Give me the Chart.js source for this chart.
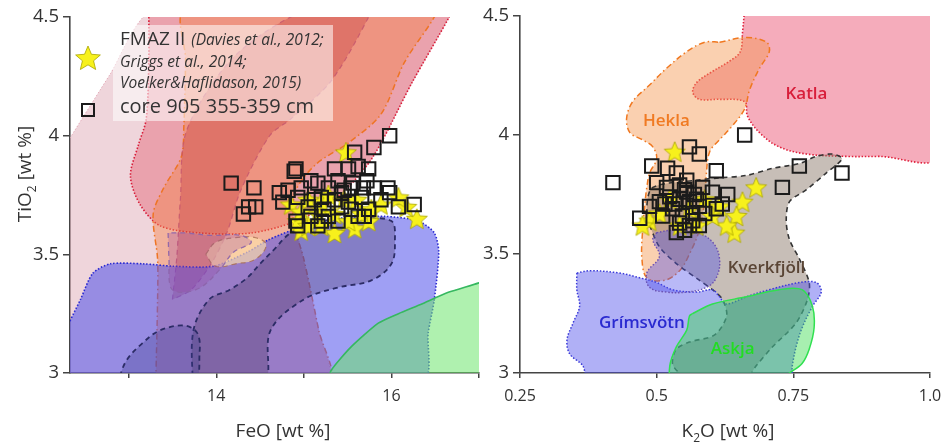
<!DOCTYPE html>
<html><head><meta charset="utf-8">
<script src="https://cdn.jsdelivr.net/npm/chart.js@4/dist/chart.umd.min.js"></script>
<style>
html,body{margin:0;padding:0;background:#fff;}
#wrap{position:relative;width:943px;height:444px;overflow:hidden;}
#c1{position:absolute;left:0;top:0;}
#c2{position:absolute;left:480px;top:0;}
</style></head><body>
<div id="wrap"><canvas id="c1" width="492" height="444"></canvas><canvas id="c2" width="463" height="444"></canvas></div>
<script>
// ---------- tick labels ----------
const feoTicks = [13, 14, 15, 16, 17];
const feoLabelled = [14, 16];
const tio2Ticks = [3, 3.5, 4, 4.5];
const k2oTicks = [0.25, 0.5, 0.75, 1.0];
const k2oTickLabels = ['0.25', '0.5', '0.75', '1.0'];

// ---------- left panel (FeO vs TiO2): samples ----------
const feoCore905 = [[14.17,3.80],[14.43,3.78],[14.37,3.70],[14.31,3.67],[14.45,3.70],[14.72,3.76],[14.76,3.72],[14.91,3.86],[14.89,3.85],[14.82,3.77],[14.93,3.74],[14.97,3.78],[15.08,3.81],[15.16,3.80],[15.20,3.74],[14.91,3.64],[14.93,3.62],[15.16,3.62],[15.28,3.66],[15.35,3.86],[15.51,3.86],[15.58,3.93],[15.62,3.87],[15.80,3.95],[15.98,4.00],[15.39,3.81],[15.46,3.77],[15.35,3.73],[15.51,3.72],[15.66,3.74],[15.74,3.69],[15.62,3.66],[15.39,3.64],[15.80,3.78],[15.96,3.78],[15.98,3.76],[16.08,3.70],[16.26,3.71],[15.88,3.73],[15.23,3.69],[15.05,3.70],[15.12,3.73],[15.28,3.78],[15.43,3.76],[15.54,3.78],[15.68,3.78],[15.72,3.81],[15.74,3.86],[15.56,3.80],[15.43,3.70],[15.54,3.69],[15.69,3.66],[15.08,3.66],[15.20,3.64]];
const feoFmaz = [[15.48,3.93],[14.97,3.60],[15.35,3.59],[15.58,3.61],[15.74,3.64],[16.29,3.65],[16.17,3.70],[16.08,3.74],[15.16,3.67],[14.93,3.64],[14.85,3.71],[15.05,3.73],[15.20,3.72],[15.35,3.67],[15.51,3.64],[15.46,3.73],[15.60,3.73],[15.66,3.67],[15.20,3.62],[15.05,3.62],[15.77,3.69],[15.88,3.71],[15.28,3.75],[14.97,3.68]];

// ---------- left panel fields (outline vertices, FeO / TiO2) ----------
const feoKatlaOuter = [[12.33,3.99],[12.79,4.26],[13.25,4.52],[16.69,4.52],[16.66,4.50],[16.23,4.22],[15.77,3.90],[15.35,3.73],[14.91,3.64],[14.97,3.52],[15.17,3.18],[15.28,2.97],[12.22,2.97],[12.22,3.94]];
const feoKatlaInner = [[13.23,4.53],[16.69,4.53],[16.66,4.50],[16.23,4.22],[15.77,3.90],[15.35,3.73],[14.91,3.64],[14.40,3.59],[13.82,3.59],[13.36,3.62],[13.13,3.71],[13.02,3.83],[13.11,3.96],[13.20,4.07],[13.23,4.32]];
const feoHekla = [[13.31,2.97],[13.33,3.31],[13.33,3.48],[13.28,3.67],[13.40,3.78],[13.60,3.91],[13.63,4.04],[13.65,4.32],[13.65,4.53],[16.49,4.53],[16.49,4.50],[16.15,4.31],[15.88,4.09],[15.51,3.97],[15.14,3.88],[14.91,3.77],[14.88,3.64],[15.00,3.48],[15.17,3.18],[15.28,2.97]];
const feoKatlaDark = [[13.50,3.31],[13.55,3.49],[13.59,3.73],[13.66,4.02],[14.17,4.32],[14.85,4.50],[15.39,4.55],[15.77,4.55],[15.74,4.50],[15.31,4.23],[14.85,4.07],[14.61,4.00],[14.28,3.77],[14.12,3.59],[13.94,3.46],[13.71,3.35]];
const feoGrimsvotn = [[12.33,3.22],[12.45,3.31],[12.59,3.42],[12.79,3.46],[13.17,3.46],[13.51,3.45],[13.97,3.45],[14.36,3.51],[14.59,3.56],[14.85,3.60],[15.12,3.63],[15.35,3.65],[15.92,3.66],[16.31,3.64],[16.49,3.59],[16.54,3.51],[16.49,3.31],[16.42,3.17],[16.36,2.97],[12.22,2.97],[12.22,3.18]];
const feoHeklaCore = [[13.88,3.50],[13.99,3.55],[14.22,3.57],[14.45,3.57],[14.57,3.54],[14.45,3.48],[14.22,3.46],[13.99,3.45]];
const feoMauve = [[13.45,3.59],[13.46,3.48],[13.48,3.36],[13.59,3.34],[13.82,3.36],[14.05,3.44],[14.20,3.51],[14.40,3.55],[14.28,3.58],[13.94,3.58],[13.65,3.59]];
const feoKverkBand = [[13.73,2.95],[13.74,3.18],[13.92,3.31],[14.15,3.35],[14.35,3.40],[14.50,3.46],[14.66,3.52],[14.85,3.59],[15.20,3.64],[15.66,3.65],[16.00,3.64],[16.04,3.56],[16.00,3.46],[15.77,3.39],[15.39,3.36],[15.00,3.31],[14.62,3.18],[14.53,2.95]];
const feoKverkLobe = [[12.87,2.95],[12.97,3.05],[13.17,3.13],[13.36,3.18],[13.63,3.20],[13.78,3.17],[13.81,3.09],[13.73,2.95]];
const feoAskja = [[15.28,2.95],[15.31,3.01],[15.54,3.11],[15.85,3.21],[16.08,3.25],[16.34,3.29],[16.65,3.34],[17.00,3.38],[17.20,3.41],[17.20,2.95]];

// ---------- right panel (K2O vs TiO2): samples ----------
const k2oCore905 = [[0.420,3.80],[0.491,3.87],[0.520,3.86],[0.500,3.80],[0.560,3.95],[0.578,3.92],[0.609,3.85],[0.661,4.00],[0.761,3.87],[0.839,3.84],[0.730,3.78],[0.630,3.75],[0.602,3.76],[0.620,3.71],[0.609,3.69],[0.469,3.65],[0.487,3.70],[0.505,3.72],[0.551,3.60],[0.542,3.63],[0.578,3.62],[0.518,3.78],[0.536,3.84],[0.555,3.76],[0.573,3.73],[0.529,3.69],[0.566,3.67],[0.584,3.78],[0.542,3.73],[0.555,3.81],[0.578,3.70],[0.524,3.74],[0.560,3.72],[0.547,3.66],[0.566,3.64],[0.511,3.66],[0.536,3.59],[0.533,3.71],[0.551,3.77],[0.569,3.75],[0.515,3.71],[0.588,3.67],[0.542,3.79],[0.560,3.62]];
const k2oFmaz = [[0.533,3.93],[0.682,3.78],[0.657,3.72],[0.646,3.66],[0.642,3.59],[0.628,3.62],[0.487,3.64],[0.474,3.62],[0.505,3.67],[0.542,3.62],[0.602,3.66],[0.615,3.70],[0.573,3.62],[0.560,3.69],[0.524,3.73],[0.588,3.73]];

// ---------- right panel fields ----------
const k2oKatla = [[0.661,4.53],[0.657,4.43],[0.653,4.35],[0.633,4.31],[0.597,4.26],[0.573,4.22],[0.566,4.18],[0.578,4.15],[0.615,4.15],[0.661,4.14],[0.666,4.08],[0.688,4.01],[0.724,3.95],[0.774,3.92],[0.847,3.91],[0.907,3.91],[1.016,3.91],[1.016,4.53]];
const k2oHekla = [[0.615,4.39],[0.664,4.41],[0.701,4.39],[0.706,4.35],[0.688,4.28],[0.670,4.19],[0.661,4.11],[0.639,4.04],[0.615,3.98],[0.597,3.93],[0.591,3.84],[0.588,3.73],[0.578,3.60],[0.560,3.50],[0.542,3.43],[0.515,3.39],[0.482,3.40],[0.473,3.48],[0.474,3.59],[0.478,3.70],[0.482,3.78],[0.487,3.84],[0.500,3.90],[0.493,3.95],[0.474,3.98],[0.451,4.01],[0.445,4.07],[0.456,4.14],[0.487,4.21],[0.518,4.28],[0.555,4.35],[0.588,4.39]];
const k2oKverkfjoll = [[0.487,3.62],[0.505,3.53],[0.536,3.46],[0.578,3.39],[0.602,3.35],[0.620,3.31],[0.628,3.24],[0.606,3.16],[0.560,3.13],[0.536,3.10],[0.529,3.04],[0.542,3.00],[0.578,2.97],[0.661,2.97],[0.682,3.03],[0.712,3.11],[0.755,3.21],[0.776,3.31],[0.779,3.38],[0.761,3.48],[0.743,3.56],[0.737,3.64],[0.743,3.72],[0.774,3.77],[0.810,3.84],[0.839,3.90],[0.821,3.92],[0.792,3.91],[0.761,3.88],[0.712,3.86],[0.664,3.83],[0.615,3.82],[0.573,3.81],[0.493,3.78],[0.482,3.70]];
const k2oGrimsvotn = [[0.354,3.42],[0.378,3.43],[0.432,3.42],[0.469,3.40],[0.500,3.38],[0.529,3.35],[0.573,3.34],[0.602,3.35],[0.615,3.32],[0.628,3.29],[0.664,3.32],[0.706,3.35],[0.761,3.38],[0.792,3.38],[0.801,3.34],[0.785,3.28],[0.766,3.19],[0.755,3.11],[0.748,3.03],[0.743,2.95],[0.378,2.95],[0.365,3.03],[0.341,3.08],[0.336,3.14],[0.347,3.21],[0.359,3.28],[0.354,3.35]];
const k2oGrimsvotnLobe = [[0.500,3.59],[0.529,3.60],[0.573,3.59],[0.602,3.55],[0.615,3.48],[0.609,3.40],[0.591,3.36],[0.555,3.34],[0.518,3.34],[0.487,3.36],[0.482,3.42],[0.505,3.49],[0.493,3.56]];
const k2oAskja = [[0.566,3.25],[0.602,3.29],[0.664,3.32],[0.724,3.35],[0.766,3.35],[0.785,3.28],[0.788,3.19],[0.779,3.10],[0.766,3.04],[0.743,3.00],[0.724,2.97],[0.529,2.97],[0.524,3.03],[0.536,3.11],[0.555,3.18],[0.560,3.24]];

// ---------- field names (right panel) ----------
const fieldNames = ['Katla', 'Hekla', 'Kverkfjöll', 'Grímsvötn', 'Askja'];
const fieldNamePos = [[0.774,4.17],[0.518,4.06],[0.701,3.44],[0.473,3.21],[0.639,3.10]];

// ---------- styles ----------
const FONT = '"Open Sans", "DejaVu Sans", sans-serif';
const TXT = '#333333';
const DOT = [1.5, 1.8], DASH = [5, 4], DASHDOT = [6, 3, 1.5, 3];
const fieldColors = ['#d81e3a', '#f07a22', '#5a4535', '#2a2ad0', '#22dd22'];

function toXY(arr) { const p = arr.map(([x, y]) => ({x, y})); p.push(p[0]); return p; }
function field(arr, fill, border, width, dash, tension) {
  return { type: 'line', data: toXY(arr), fill: 'shape', backgroundColor: fill,
    borderColor: border, borderWidth: width, borderDash: dash || [], tension: tension == null ? 0.35 : tension,
    pointRadius: 0, showLine: true, clip: 0 };
}
function makeStar(size) {
  const c = document.createElement('canvas'); c.width = c.height = size;
  const g = c.getContext('2d'); const cx = size / 2, cy = size / 2 + 1, R = size / 2 - 1, r = R * 0.45;
  g.beginPath();
  for (let i = 0; i < 10; i++) { const a = -Math.PI / 2 + i * Math.PI / 5; const rr = i % 2 ? r : R; g.lineTo(cx + rr * Math.cos(a), cy + rr * Math.sin(a)); }
  g.closePath(); g.fillStyle = '#f7f11c'; g.fill(); g.lineWidth = 0.8; g.strokeStyle = '#a9a400'; g.stroke();
  return c;
}
const starImg = makeStar(24);
const legendStar = makeStar(28);

function points(arr, kind) {
  if (kind === 'star') return { type: 'line', data: arr.map(([x, y]) => ({x, y})), showLine: false,
    pointStyle: starImg, pointRadius: 12, order: 1 };
  return { type: 'line', data: arr.map(([x, y]) => ({x, y})), showLine: false, pointStyle: 'rect',
    pointRadius: 9.5, pointBorderWidth: 2, pointBorderColor: '#1b1b1b', pointBackgroundColor: 'rgba(0,0,0,0)', order: 0 };
}
function withOrder(list) { return list.map((d, i) => Object.assign(d, { order: 100 - i })); }

function drawRich(ctx, parts, cx, cy, rot, size, color) {
  ctx.save(); ctx.translate(cx, cy); ctx.rotate(rot); ctx.fillStyle = color; ctx.textBaseline = 'alphabetic';
  const fm = size + 'px ' + FONT, fs = Math.round(size * 0.62) + 'px ' + FONT;
  let w = 0; parts.forEach(p => { ctx.font = p.sub ? fs : fm; p.w = ctx.measureText(p.t).width; w += p.w; });
  let x = -w / 2; const base = size * 0.36;
  parts.forEach(p => { ctx.font = p.sub ? fs : fm; ctx.fillText(p.t, x, base + (p.sub ? size * 0.28 : 0)); x += p.w; });
  ctx.restore();
}

const titlesPlugin = {
  id: 'richTitles',
  afterDraw(chart, args, opts) { (opts.items || []).forEach(it => drawRich(chart.ctx, it.parts, it.x, it.y, it.rot || 0, it.size, TXT)); }
};
const labelsPlugin = {
  id: 'fieldLabels',
  afterDatasetsDraw(chart, args, opts) {
    const ctx = chart.ctx; const xs = chart.scales.x, ys = chart.scales.y;
    (opts.names || []).forEach((n, i) => {
      ctx.save(); ctx.font = '600 17px ' + FONT; ctx.fillStyle = opts.colors[i]; ctx.textAlign = 'center'; ctx.textBaseline = 'middle';
      ctx.fillText(n, xs.getPixelForValue(opts.pos[i][0]), ys.getPixelForValue(opts.pos[i][1])); ctx.restore();
    });
  }
};
const legendPlugin = {
  id: 'boxLegend',
  afterDatasetsDraw(chart, args, opts) {
    if (!opts.show) return;
    const ctx = chart.ctx; ctx.save();
    ctx.fillStyle = 'rgba(255,255,255,0.55)'; ctx.fillRect(113, 25, 220, 96);
    ctx.drawImage(legendStar, 88 - 14, 58 - 14);
    ctx.lineWidth = 2; ctx.strokeStyle = '#1b1b1b'; ctx.strokeRect(82, 104, 12, 12);
    ctx.fillStyle = TXT; ctx.textBaseline = 'alphabetic';
    ctx.font = '19px ' + FONT; ctx.fillText('FMAZ II', 120, 45);
    const w = ctx.measureText('FMAZ II').width;
    ctx.font = 'italic 15.5px ' + FONT; ctx.fillText('(Davies et al., 2012;', 126 + w, 45);
    ctx.fillText('Griggs et al., 2014;', 120, 67);
    ctx.fillText('Voelker&Haflidason, 2015)', 120, 88);
    ctx.font = '20px ' + FONT; ctx.fillText('core 905 355-359 cm', 120, 113);
    ctx.restore();
  }
};

function axisOpts(min, max, ticks, labelFn, isX, fontSize, size) {
  return {
    type: 'linear', min, max,
    afterBuildTicks: s => { s.ticks = ticks.map(v => ({ value: v })); },
    afterFit: s => { if (isX) s.height = size; else s.width = size; s.paddingTop = 0; s.paddingBottom = 0; s.paddingLeft = 0; s.paddingRight = 0; },
    ticks: { autoSkip: false, maxRotation: 0, color: TXT, font: { family: FONT, size: fontSize }, padding: isX ? 9 : 4, callback: labelFn },
    grid: { drawOnChartArea: false, drawTicks: true, tickLength: isX ? 5 : 7, color: '#444', lineWidth: 1.5 },
    border: { display: true, color: '#444', width: 1.6 },
    title: { display: false }
  };
}

const leftFields = withOrder([
  field(feoKatlaOuter, 'rgba(215,150,165,0.40)', 'rgba(225,165,180,0.9)', 1, DOT, 0.2),
  field(feoKatlaInner, 'rgba(225,80,100,0.38)', '#d81e3a', 1.6, DOT, 0.3),
  field(feoHekla, 'rgba(245,130,70,0.42)', '#ee7424', 1.5, DASHDOT, 0.3),
  field(feoKatlaDark, 'rgba(190,40,50,0.30)', 'rgba(200,90,110,0.9)', 1.2, DASH, 0.3),
  field(feoGrimsvotn, 'rgba(80,80,235,0.55)', '#2a2ad0', 1.6, DOT, 0.25),
  field(feoHeklaCore, 'rgba(255,225,170,0.65)', 'rgba(170,110,80,0.8)', 1.2, DASH, 0.4),
  field(feoMauve, 'rgba(150,70,160,0.28)', 'rgba(140,100,170,0.9)', 1.3, DASH, 0.35),
  field(feoKverkBand, 'rgba(70,50,90,0.30)', '#2c2c66', 1.8, DASH, 0.35),
  field(feoKverkLobe, 'rgba(60,60,140,0.30)', '#2c2c66', 1.8, DASH, 0.35),
  field(feoAskja, 'rgba(110,230,110,0.55)', '#36b860', 1.6, [], 0.2)
]);
const rightFields = withOrder([
  field(k2oKatla, 'rgba(235,90,120,0.5)', '#e0203c', 1.6, DOT, 0.35),
  field(k2oHekla, 'rgba(245,150,80,0.45)', '#f07820', 1.5, DASHDOT, 0.35),
  field(k2oKverkfjoll, 'rgba(130,110,95,0.45)', '#333333', 1.6, DASH, 0.3),
  field(k2oGrimsvotn, 'rgba(80,80,235,0.45)', '#3a3ad8', 1.5, DOT, 0.35),
  field(k2oGrimsvotnLobe, 'rgba(80,80,235,0.40)', '#6a50b0', 1.4, DOT, 0.4),
  field(k2oAskja, 'rgba(60,220,80,0.45)', '#30e050', 1.5, [], 0.35)
]);

const common = { responsive: false, animation: false, events: [], devicePixelRatio: 1 };

new Chart(document.getElementById('c1'), {
  type: 'line',
  data: { datasets: [points(feoCore905, 'rect'), points(feoFmaz, 'star'), ...leftFields] },
  options: Object.assign({}, common, {
    layout: { padding: { top: 17, right: 0, left: 0, bottom: 0 } },
    scales: {
      x: axisOpts(12.33, 17, feoTicks, v => feoLabelled.includes(v) ? String(v) : '', true, 16, 71),
      y: axisOpts(3, 4.5, tio2Ticks, v => String(v), false, 18.5, 70)
    },
    plugins: {
      legend: { display: false }, tooltip: { enabled: false },
      boxLegend: { show: true },
      richTitles: { items: [
        { parts: [{t:'TiO'},{t:'2',sub:true},{t:' [wt %]'}], x: 24, y: 174, rot: -Math.PI / 2, size: 19 },
        { parts: [{t:'FeO [wt %]'}], x: 283, y: 430, size: 19 }
      ] }
    }
  }),
  plugins: [titlesPlugin, legendPlugin]
});

new Chart(document.getElementById('c2'), {
  type: 'line',
  data: { datasets: [points(k2oCore905, 'rect'), points(k2oFmaz, 'star'), ...rightFields] },
  options: Object.assign({}, common, {
    layout: { padding: { top: 16, right: 13, left: 0, bottom: 0 } },
    scales: {
      x: axisOpts(0.25, 1.0, k2oTicks, v => k2oTickLabels[k2oTicks.indexOf(v)] || '', true, 16, 71),
      y: axisOpts(3, 4.5, tio2Ticks, v => String(v), false, 18.5, 40)
    },
    plugins: {
      legend: { display: false }, tooltip: { enabled: false },
      fieldLabels: { names: fieldNames, pos: fieldNamePos, colors: fieldColors },
      richTitles: { items: [
        { parts: [{t:'K'},{t:'2',sub:true},{t:'O [wt %]'}], x: 248, y: 430, size: 19 }
      ] }
    }
  }),
  plugins: [titlesPlugin, labelsPlugin]
});
</script>
</body></html>
